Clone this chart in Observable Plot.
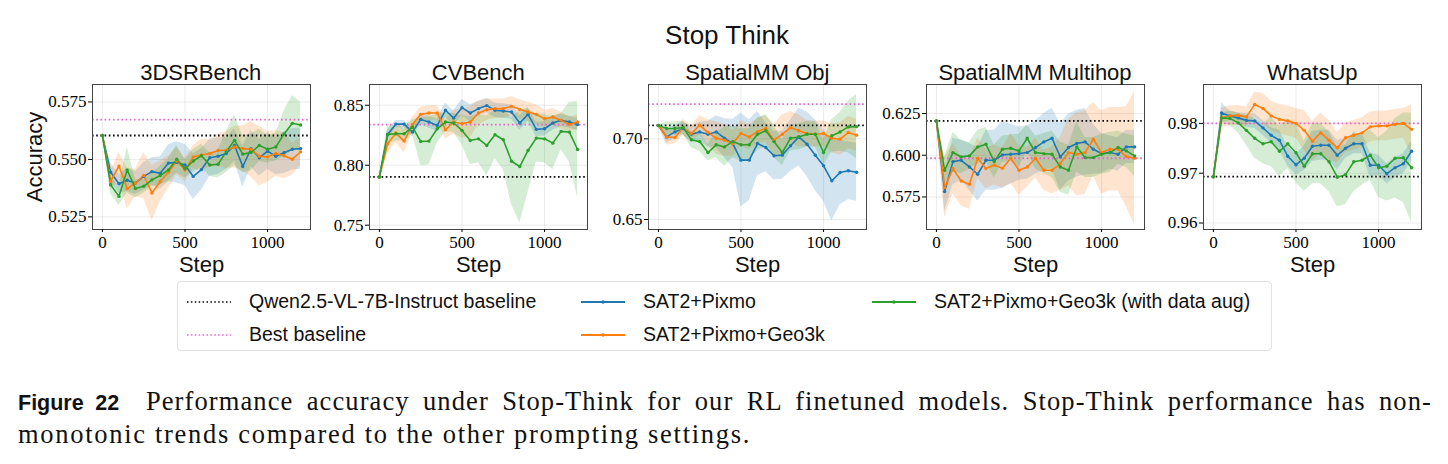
<!DOCTYPE html>
<html>
<head>
<meta charset="utf-8">
<script src="https://cdn.jsdelivr.net/npm/d3@7"></script>
<script src="https://cdn.jsdelivr.net/npm/@observablehq/plot@0.6"></script>
<style>
  html, body { margin: 0; padding: 0; background: #fff; }
  #root { position: relative; width: 1448px; height: 464px; overflow: hidden; font-family: "Liberation Sans", sans-serif; }
  .ptitle { position: absolute; font-size: 22px; color: #111; transform: translate(-50%, -50%); white-space: nowrap; }
  #legend { position: absolute; left: 177px; top: 281px; width: 1095px; height: 70px; border: 1px solid #e2e2e2; border-radius: 4px; box-sizing: border-box; }
  .litem { position: absolute; font-size: 19.5px; color: #111; white-space: nowrap; transform: translateY(-50%); }
  .lsw { position: absolute; transform: translateY(-50%); }
  .cap { position: absolute; left: 18px; width: 1414px; font-family: "Liberation Serif", serif; font-size: 26.5px; letter-spacing: 1.1px; color: #111; white-space: nowrap; }
  .cap .fig { font-family: "Liberation Sans", sans-serif; font-weight: bold; font-size: 21.5px; letter-spacing: 0; white-space: nowrap; }
</style>
</head>
<body>
<div id="root"></div>
<script>
// ---------- data ----------
const steps = [0,50,100,150,200,250,300,350,400,450,500,550,600,650,700,750,800,850,900,950,1000,1050,1100,1150,1200];
const seriesNames = ["SAT2+Pixmo", "SAT2+Pixmo+Geo3k", "SAT2+Pixmo+Geo3k (with data aug)"];
const seriesColors = ["#1f77b4", "#ff7f0e", "#2ca02c"];
const panelTitles = ["3DSRBench", "CVBench", "SpatialMM Obj", "SpatialMM Multihop", "WhatsUp"];
const baseQwen = [0.5604, 0.7902, 0.7083, 0.6206, 0.9693];
const baseBest = [0.5673, 0.8338, 0.7215, 0.5982, 0.9800];
const yDomains = [[0.5195, 0.5826], [0.7464, 0.8673], [0.6438, 0.7337], [0.5555, 0.6424], [0.9587, 0.9878]];
const yTicks = [[0.525, 0.550, 0.575], [0.75, 0.80, 0.85], [0.65, 0.70], [0.575, 0.600, 0.625], [0.96, 0.97, 0.98]];
const yFormats = [".3f", ".2f", ".2f", ".3f", ".2f"];
const xTicks = [0, 500, 1000];

// 3DSRBench
const dsrPixmo   = [0.5604,0.5444,0.5394,0.5409,0.5397,0.5426,0.5447,0.5440,0.5484,0.5487,0.5476,0.5426,0.5456,0.5507,0.5514,0.5526,0.5561,0.5469,0.5547,0.5507,0.5536,0.5514,0.5529,0.5544,0.5547];
const dsrPixmoSd = [0,0.004,0.004,0.005,0.005,0.006,0.006,0.007,0.008,0.009,0.009,0.010,0.009,0.008,0.008,0.007,0.007,0.009,0.008,0.008,0.008,0.008,0.009,0.009,0.009];
const dsrGeo     = [0.5604,0.5405,0.5471,0.5373,0.5397,0.5430,0.5354,0.5404,0.5444,0.5493,0.5454,0.5511,0.5519,0.5526,0.5539,0.5540,0.5554,0.5547,0.5544,0.5514,0.5511,0.5526,0.5516,0.5501,0.5533];
const dsrGeoSd   = [0,0.004,0.006,0.009,0.006,0.010,0.012,0.009,0.007,0.006,0.005,0.005,0.007,0.006,0.007,0.008,0.009,0.010,0.012,0.013,0.011,0.010,0.010,0.007,0.006];
const dsrAug     = [0.5604,0.5390,0.5339,0.5454,0.5373,0.5383,0.5411,0.5430,0.5454,0.5501,0.5459,0.5493,0.5516,0.5476,0.5479,0.5533,0.5583,0.5523,0.5530,0.5561,0.5544,0.5554,0.5611,0.5657,0.5650];
const dsrAugSd   = [0,0.004,0.004,0.010,0.004,0.003,0.003,0.004,0.005,0.006,0.004,0.005,0.005,0.005,0.006,0.009,0.011,0.008,0.008,0.007,0.006,0.006,0.010,0.012,0.010];

// CVBench
const cvPixmo   = [0.7902,0.8257,0.8343,0.8343,0.8276,0.8382,0.8360,0.8332,0.8458,0.8393,0.8480,0.8435,0.8472,0.8497,0.8458,0.8452,0.8444,0.8352,0.8424,0.8299,0.8304,0.8352,0.8374,0.8360,0.8340];
const cvPixmoSd = [0,0.004,0.003,0.003,0.004,0.004,0.005,0.005,0.006,0.006,0.007,0.007,0.006,0.006,0.006,0.006,0.006,0.006,0.006,0.006,0.006,0.006,0.005,0.005,0.005];
const cvGeo     = [0.7902,0.8179,0.8268,0.8201,0.8340,0.8424,0.8435,0.8435,0.8296,0.8360,0.8346,0.8360,0.8435,0.8463,0.8472,0.8472,0.8491,0.8466,0.8444,0.8424,0.8388,0.8402,0.8374,0.8340,0.8360];
const cvGeoSd   = [0,0.008,0.008,0.010,0.006,0.006,0.006,0.006,0.008,0.010,0.012,0.013,0.010,0.009,0.008,0.008,0.008,0.008,0.008,0.008,0.007,0.007,0.007,0.006,0.006];
const cvAug     = [0.7902,0.8257,0.8262,0.8262,0.8318,0.8198,0.8201,0.8304,0.8360,0.8352,0.8290,0.8206,0.8220,0.8165,0.8254,0.8212,0.8033,0.7989,0.8123,0.8226,0.8220,0.8184,0.8282,0.8276,0.8131];
const cvAugSd   = [0,0.008,0.006,0.006,0.006,0.020,0.020,0.012,0.008,0.008,0.012,0.020,0.020,0.025,0.020,0.025,0.036,0.047,0.035,0.020,0.020,0.022,0.015,0.025,0.040];

// SpatialMM Obj
const objPixmo   = [0.7083,0.7012,0.7043,0.7064,0.7029,0.7043,0.7029,0.7043,0.7004,0.6971,0.6868,0.6868,0.6971,0.6946,0.6895,0.6899,0.6957,0.7012,0.6967,0.6899,0.6833,0.6740,0.6791,0.6802,0.6793];
const objPixmoSd = [0,0.004,0.004,0.004,0.005,0.006,0.008,0.010,0.012,0.015,0.029,0.025,0.020,0.015,0.015,0.015,0.016,0.018,0.020,0.022,0.022,0.025,0.020,0.018,0.018];
const objGeo     = [0.7083,0.7012,0.7008,0.7070,0.7033,0.7085,0.7039,0.7004,0.6992,0.6971,0.7033,0.7012,0.7045,0.7064,0.6992,0.7029,0.7070,0.7050,0.7033,0.7029,0.7033,0.7004,0.6998,0.7039,0.7023];
const objGeoSd   = [0,0.005,0.004,0.005,0.005,0.006,0.008,0.010,0.010,0.008,0.008,0.008,0.008,0.008,0.010,0.012,0.010,0.010,0.008,0.008,0.008,0.009,0.010,0.010,0.010];
const objAug     = [0.7083,0.7064,0.7064,0.7070,0.6994,0.6983,0.6915,0.6963,0.6950,0.6983,0.6963,0.6963,0.7029,0.7050,0.6983,0.6915,0.7004,0.7012,0.7029,0.7029,0.6915,0.7019,0.7043,0.7074,0.7076];
const objAugSd   = [0,0.004,0.004,0.004,0.005,0.006,0.005,0.008,0.012,0.010,0.010,0.010,0.010,0.010,0.010,0.008,0.008,0.008,0.008,0.008,0.008,0.010,0.012,0.016,0.020];

// SpatialMM Multihop
const hopPixmo   = [0.6206,0.5782,0.5962,0.5970,0.5930,0.5886,0.5970,0.5970,0.6002,0.6006,0.6010,0.6016,0.6046,0.6080,0.6102,0.5990,0.6046,0.6070,0.6080,0.6036,0.6010,0.6016,0.6006,0.6050,0.6050];
const hopPixmoSd = [0,0.012,0.014,0.012,0.014,0.016,0.018,0.018,0.020,0.018,0.016,0.016,0.016,0.017,0.018,0.020,0.020,0.020,0.020,0.015,0.012,0.010,0.010,0.010,0.010];
const hopGeo     = [0.6206,0.5806,0.5920,0.5846,0.5826,0.5982,0.5920,0.5942,0.5922,0.5982,0.5910,0.5930,0.5982,0.5910,0.5910,0.5950,0.6016,0.6006,0.6016,0.6096,0.6016,0.6036,0.6036,0.5992,0.5982];
const hopGeoSd   = [0,0.018,0.015,0.015,0.015,0.012,0.012,0.012,0.012,0.015,0.015,0.012,0.012,0.012,0.014,0.016,0.020,0.025,0.025,0.022,0.025,0.025,0.025,0.030,0.040];
const hopAug     = [0.6206,0.5910,0.6016,0.5990,0.5996,0.6050,0.6066,0.5962,0.6036,0.6042,0.6026,0.6102,0.6016,0.6010,0.6006,0.5930,0.5910,0.6050,0.5986,0.5986,0.6006,0.6016,0.6046,0.6026,0.5996];
const hopAugSd   = [0,0.008,0.012,0.010,0.008,0.010,0.010,0.010,0.008,0.008,0.010,0.008,0.010,0.012,0.014,0.015,0.015,0.015,0.012,0.012,0.012,0.012,0.010,0.010,0.012];

// WhatsUp
const wuPixmo   = [0.9693,0.9821,0.9815,0.9811,0.9806,0.9805,0.9791,0.9776,0.9766,0.9734,0.9717,0.9730,0.9754,0.9756,0.9756,0.9736,0.9750,0.9759,0.9759,0.9716,0.9716,0.9699,0.9711,0.9719,0.9744];
const wuPixmoSd = [0,0.002,0.001,0.001,0.0015,0.0015,0.0015,0.0015,0.002,0.002,0.002,0.0025,0.003,0.003,0.003,0.003,0.002,0.002,0.002,0.0025,0.002,0.002,0.002,0.002,0.002];
const wuGeo     = [0.9693,0.9811,0.9815,0.9816,0.9813,0.9838,0.9830,0.9815,0.9808,0.9805,0.9800,0.9786,0.9764,0.9781,0.9766,0.9751,0.9771,0.9776,0.9781,0.9793,0.9795,0.9795,0.9798,0.9800,0.9788];
const wuGeoSd   = [0,0.002,0.002,0.002,0.002,0.0025,0.003,0.003,0.003,0.003,0.003,0.004,0.004,0.004,0.004,0.003,0.003,0.003,0.003,0.003,0.003,0.003,0.003,0.003,0.005];
const wuAug     = [0.9693,0.9811,0.9810,0.9801,0.9786,0.9770,0.9759,0.9763,0.9744,0.9759,0.9741,0.9714,0.9739,0.9739,0.9723,0.9692,0.9697,0.9723,0.9726,0.9736,0.9711,0.9714,0.9730,0.9731,0.9711];
const wuAugSd   = [0,0.001,0.0015,0.002,0.003,0.004,0.004,0.005,0.005,0.005,0.006,0.005,0.006,0.006,0.006,0.006,0.006,0.006,0.005,0.005,0.006,0.007,0.008,0.009,0.011];

const panelSeries = [
  [[dsrPixmo, dsrPixmoSd], [dsrGeo, dsrGeoSd], [dsrAug, dsrAugSd]],
  [[cvPixmo, cvPixmoSd], [cvGeo, cvGeoSd], [cvAug, cvAugSd]],
  [[objPixmo, objPixmoSd], [objGeo, objGeoSd], [objAug, objAugSd]],
  [[hopPixmo, hopPixmoSd], [hopGeo, hopGeoSd], [hopAug, hopAugSd]],
  [[wuPixmo, wuPixmoSd], [wuGeo, wuGeoSd], [wuAug, wuAugSd]]
];

// ---------- layout ----------
const frameLeft = [91.7, 369.3, 648.3, 926, 1203.3];
const frameTop = 84.3, frameW = 218, frameH = 145;
const mL = 60, mR = 10, mT = 10, mB = 55;
const pink = "#ec63cf";
const serif = "Liberation Serif, serif";
const sans = "Liberation Sans, sans-serif";

const root = document.getElementById("root");

function addDiv(cls, html, styles) {
  const d = document.createElement("div");
  d.className = cls;
  d.innerHTML = html;
  Object.assign(d.style, styles);
  root.appendChild(d);
  return d;
}

addDiv("ptitle", "Stop Think", {left: "727px", top: "35px", fontSize: "26px"});

panelTitles.forEach((title, i) => {
  const rows = [];
  panelSeries[i].forEach(([mean, sd], s) => {
    steps.forEach((st, k) => rows.push({step: st, mean: mean[k], lo: mean[k] - sd[k], hi: mean[k] + sd[k], series: seriesNames[s]}));
  });
  const marks = [
    Plot.gridX(xTicks, {stroke: "#000", strokeOpacity: 0.08}),
    Plot.gridY(yTicks[i], {stroke: "#000", strokeOpacity: 0.08}),
    Plot.areaY(rows, {x: "step", y1: "lo", y2: "hi", fill: "series", z: "series", fillOpacity: 0.2}),
    Plot.ruleY([baseQwen[i]], {stroke: "#000", strokeWidth: 1.8, strokeDasharray: "1.6,2.6"}),
    Plot.ruleY([baseBest[i]], {stroke: pink, strokeWidth: 1.8, strokeDasharray: "1.6,2.6"}),
    Plot.lineY(rows, {x: "step", y: "mean", stroke: "series", z: "series", strokeWidth: 1.6}),
    Plot.dot(rows, {x: "step", y: "mean", fill: "series", r: 1.7}),
    Plot.frame({stroke: "#444", strokeWidth: 1}),
    Plot.axisX(xTicks, {tickSize: 3, tickPadding: 3, fontSize: 17, fontFamily: serif, label: null, tickFormat: d3.format("d")}),
    Plot.axisY(yTicks[i], {tickSize: 4, tickPadding: 2, fontSize: 17, fontFamily: serif, label: null, tickFormat: d3.format(yFormats[i])}),
    Plot.text(["Step"], {frameAnchor: "bottom", lineAnchor: "middle", textAnchor: "middle", dy: 35, fontSize: 22, fontFamily: sans, fill: "#111"})
  ];
  if (i === 0) {
    marks.push(Plot.text(["Accuracy"], {frameAnchor: "left", textAnchor: "middle", lineAnchor: "middle", dx: -58, rotate: -90, fontSize: 22, fontFamily: sans, fill: "#111"}));
  }
  const chart = Plot.plot({
    width: frameW + mL + mR,
    height: frameH + mT + mB,
    marginLeft: mL, marginRight: mR, marginTop: mT, marginBottom: mB,
    style: {background: "transparent", overflow: "visible"},
    x: {domain: [-60, 1260]},
    y: {domain: yDomains[i]},
    color: {domain: seriesNames, range: seriesColors},
    marks
  });
  chart.style.position = "absolute";
  chart.style.left = (frameLeft[i] - mL) + "px";
  chart.style.top = (frameTop - mT) + "px";
  root.appendChild(chart);
  addDiv("ptitle", title, {left: (frameLeft[i] + frameW / 2) + "px", top: "73px"});
});

// ---------- legend ----------
const legend = document.createElement("div");
legend.id = "legend";
root.appendChild(legend);
function swatch(color, dotted) {
  if (dotted) {
    return `<svg width="46" height="8"><line x1="1" y1="4" x2="45" y2="4" stroke="${color}" stroke-width="1.5" stroke-dasharray="1.5,2.4"/></svg>`;
  }
  return `<svg width="46" height="8"><line x1="1" y1="4" x2="45" y2="4" stroke="${color}" stroke-width="2"/><circle cx="23" cy="4" r="1.8" fill="${color}"/></svg>`;
}
const legendItems = [
  {label: "Qwen2.5-VL-7B-Instruct baseline", color: "#000", dotted: true, x: 8, y: 19},
  {label: "Best baseline", color: pink, dotted: true, x: 8, y: 52},
  {label: seriesNames[0], color: seriesColors[0], dotted: false, x: 402, y: 19},
  {label: seriesNames[1], color: seriesColors[1], dotted: false, x: 402, y: 52},
  {label: seriesNames[2], color: seriesColors[2], dotted: false, x: 693, y: 19}
];
legendItems.forEach(it => {
  const sw = document.createElement("div");
  sw.className = "lsw";
  sw.style.left = it.x + "px";
  sw.style.top = it.y + "px";
  sw.innerHTML = swatch(it.color, it.dotted);
  legend.appendChild(sw);
  const t = document.createElement("div");
  t.className = "litem";
  t.style.left = (it.x + 63) + "px";
  t.style.top = it.y + "px";
  t.textContent = it.label;
  legend.appendChild(t);
});

// ---------- caption ----------
addDiv("cap", "<span class=\"fig\">Figure&nbsp;22</span>&nbsp;&nbsp;Performance accuracy under Stop-Think for our RL finetuned models. Stop-Think performance has non-", {top: "386px", textAlign: "justify", textAlignLast: "justify", whiteSpace: "normal"});
addDiv("cap", "monotonic trends compared to the other prompting settings.", {top: "419px", letterSpacing: "1.7px"});
</script>
</body>
</html>
